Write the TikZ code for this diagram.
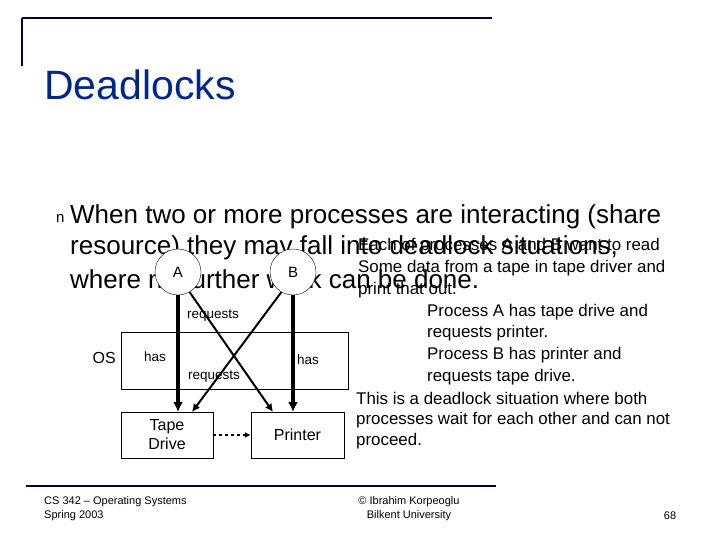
\documentclass[tikz,border=0pt]{standalone}
\usepackage{fontspec}
\setmainfont{Liberation Sans}
\usetikzlibrary{arrows.meta}
\definecolor{titleblue}{RGB}{0,40,140}
\definecolor{navy}{RGB}{0,0,70}
\begin{document}
\begin{tikzpicture}[x=1pt,y=-1pt,
  txt/.style={anchor=west,inner sep=0pt,font=\fontsize{16.9}{16}\selectfont},
  big/.style={anchor=west,inner sep=0pt,font=\fontsize{26}{26}\selectfont},
  small/.style={inner sep=0pt,font=\fontsize{13.5}{13.5}\selectfont},
  foot/.style={inner sep=0pt,font=\fontsize{11}{11}\selectfont},
  box/.style={draw,inner sep=0pt},
  proc/.style={draw,circle,fill=white,minimum size=46pt,inner sep=0pt,font=\fontsize{15}{15}\selectfont},
  thickarr/.style={line width=3.5pt,-{Latex[length=10pt,width=10pt]}},
  thinarr/.style={line width=2pt,-{Latex[length=8pt,width=8pt]}}]
\useasboundingbox (0,0) rectangle (720,540);
\fill[white] (0,0) rectangle (720,540);
% header rules
\draw[navy,line width=2pt] (22,18) -- (492,18);
\draw[navy,line width=2pt] (22,18) -- (22,66);
\node[anchor=west,inner sep=0pt,text=titleblue,font=\fontsize{41}{41}\selectfont] (title) at (44,85) {Deadlocks};
% bullet
\node[anchor=west,inner sep=0pt,font=\fontsize{15}{15}\selectfont] (bul) at (56,218) {n};
\node[big] (l1) at (70,217) {When two or more processes are interacting (share};
\node[big] (l2) at (70,248) {resource) they may fall into deadlock situations,};
\node[big] (l3) at (70,279) {where no further work can be done.};
% right texts
\node[txt] (r1) at (358,246) {Each of processes A and B want to read};
\node[txt] (r2) at (358,268) {Some data from a tape in tape driver and};
\node[txt] (r3) at (358,290) {print that out.};
\node[txt] (r4) at (427,312) {Process A has tape drive and};
\node[txt] (r5) at (427,333) {requests printer.};
\node[txt] (r6) at (427,355) {Process B has printer and};
\node[txt] (r7) at (427,377) {requests tape drive.};
\node[txt] (r8) at (356,398) {This is a deadlock situation where both};
\node[txt] (r9) at (356,420) {processes wait for each other and can not};
\node[txt] (r10) at (356,441) {proceed.};
% diagram
\node[box,minimum width=227pt,minimum height=57pt] (os) at (234.5,360.5) {};
\node[anchor=east,inner sep=0pt,font=\fontsize{16}{16}\selectfont] (oslbl) at (116,358) {OS};
\node[box,minimum width=92pt,minimum height=46pt,align=center,font=\fontsize{16}{19}\selectfont] (tape) at (167,435) {Tape\\Drive};
\node[box,minimum width=93pt,minimum height=46pt,font=\fontsize{16}{16}\selectfont] (printer) at (297.5,435) {Printer};
\node[proc] (A) at (178,272) {A};
\node[proc] (B) at (293,272) {B};
\coordinate (tapetop) at (178,412);
\coordinate (printtop) at (293,412);
\coordinate (tapediag) at (192,412);
\coordinate (printdiag) at (273,412);
\draw[thickarr] (A.south) -- (tapetop);
\draw[thickarr] (B.south) -- (printtop);
\draw[thinarr] (A.-60) -- (printdiag);
\draw[thinarr] (B.-120) -- (tapediag);
\draw[dashed,line width=1.5pt,-{Latex[length=6pt,width=6pt]}] (tape.east) -- (printer.west);
\node[small] (req1) at (213,316) {requests};
\node[small] (req2) at (214,377) {requests};
\node[small] (has1) at (155,357) {has};
\node[small] (has2) at (308,360) {has};
% footer
\draw[navy,line width=2.5pt] (26,486) -- (496,486);
\node[foot,anchor=west] (f1) at (44,502) {CS 342 – Operating Systems};
\node[foot,anchor=west] (f2) at (44,516) {Spring 2003};
\node[foot] (f3) at (409,502) {© Ibrahim Korpeoglu};
\node[foot] (f4) at (409,516) {Bilkent University};
\node[foot] (f5) at (670,516) {68};
\end{tikzpicture}
\end{document}
